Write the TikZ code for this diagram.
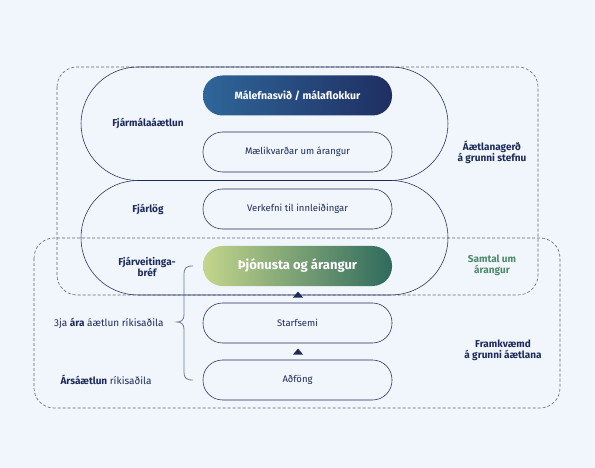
\documentclass[tikz,border=0pt]{standalone}
\usepackage{fontspec}
\setmainfont{Fira Sans}
\usepackage{tikz}
\usetikzlibrary{calc,positioning}
\definecolor{PageBg}{HTML}{F1F5FC}
\definecolor{Navy}{HTML}{1C2B5A}
\definecolor{BlueL}{HTML}{2F6699}
\definecolor{BlueR}{HTML}{1F2E62}
\definecolor{GreenL}{HTML}{C4D68B}
\definecolor{GreenR}{HTML}{2E6A5D}
\definecolor{GreenTxt}{HTML}{4E8A6A}
\definecolor{DashGray}{HTML}{5F6674}
\definecolor{BraceGray}{HTML}{6E7B91}

\tikzset{
  pill/.style={draw=Navy, line width=0.55pt, rounded corners=19.5pt, minimum width=189pt, minimum height=40pt, inner sep=0pt, font=\fontsize{9.5}{11}\selectfont, text=Navy},
  pillfill/.style={pill, draw=none, font=\fontsize{10.5}{12}\selectfont\bfseries, text=white},
  sidelbl/.style={font=\fontsize{10}{12}\selectfont\bfseries, text=Navy, align=center},
  planlbl/.style={font=\fontsize{10}{12}\selectfont, text=Navy},
  zone/.style={draw=DashGray, line width=0.6pt, dash pattern=on 3pt off 2pt, rounded corners=20pt},
  stadium/.style={draw=Navy, line width=0.55pt, rounded corners=57pt},
  tri/.style={fill=Navy}
}

\begin{document}
\begin{tikzpicture}[x=1pt, y=-1pt]
    % Background
    \fill[PageBg] (0,0) rectangle (595,468);
    \useasboundingbox (0,0) rectangle (595,468);

    % Dashed zones
    \draw[zone] (57,67) rectangle (538,295);
    \draw[zone] (34,238) rectangle (560,408);

    % Big stadiums
    \draw[stadium] (81,67) rectangle (448,180.5);
    \draw[stadium] (81,180.5) rectangle (448,295);

    % Inner boxes
    \node[pillfill, left color=BlueL, right color=BlueR] (malefni) at (297.5,95.5) {Málefnasvið / málaflokkur};
    \node[pill] (maelik) at (297.5,152) {Mælikvarðar um árangur};
    \node[pill] (verkefni) at (297.5,209) {Verkefni til innleiðingar};
    \node[pillfill, left color=GreenL, right color=GreenR, font=\fontsize{13}{15}\selectfont\bfseries] (thjon) at (297.5,266) {Þjónusta og árangur};
    \node[pill] (starf) at (297.5,323) {Starfsemi};
    \node[pill] (adfong) at (297.5,380) {Aðföng};

    % Triangles between boxes
    \fill[tri] (293,297.5) -- (303,297.5) -- (298,291.5) -- cycle;
    \fill[tri] (293,354.5) -- (303,354.5) -- (298,348.5) -- cycle;

    % Left labels
    \node[sidelbl] (fjarmal) at (148,123) {Fjármálaáætlun};
    \node[sidelbl] (fjarlog) at (148,209) {Fjárlög};
    \node[sidelbl] (fjarveit) at (147,266.5) {Fjárveitinga-\\[-1pt]bréf};

    % Right labels
    \node[sidelbl] (aaetlun) at (492,152) {Áætlanagerð\\[-1pt]á grunni stefnu};
    \node[sidelbl, text=GreenTxt] (samtal) at (492,265.5) {Samtal um\\[-1pt]árangur};
    \node[sidelbl] (framkv) at (503,350) {Framkvæmd\\[-1pt]á grunni áætlana};

    % Brace and plan labels
    \draw[BraceGray, thick] (193,266) .. controls (186,266) and (184,268) .. (184,275) -- (184,315)
        .. controls (184,320) and (181,322) .. (177,322)
        .. controls (181,322) and (184,324) .. (184,329) -- (184,372)
        .. controls (184,378) and (186,380) .. (193,380);
    \node[planlbl, anchor=east] (threeyr) at (167,323) {3ja \textbf{ára} áætlun ríkisaðila};
    \node[planlbl] (arsaet) at (106,380) {\textbf{Ársáætlun} ríkisaðila};

\end{tikzpicture}
\end{document}
